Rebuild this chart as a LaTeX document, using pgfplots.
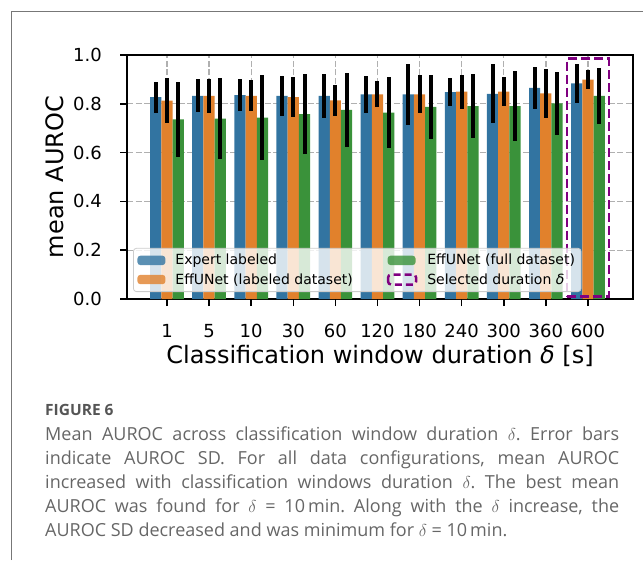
\documentclass[border=0pt]{standalone}
\usepackage{fontspec}
\setmainfont{DejaVu Sans}
\newfontfamily\capfont{Open Sans}
\usepackage{pgfplots}
\usepackage{pgfplotstable}
\pgfplotsset{compat=1.18}
\definecolor{cblue}{HTML}{3274A1}
\definecolor{corange}{HTML}{E1812C}
\definecolor{cgreen}{HTML}{3A923A}
\definecolor{cpurple}{HTML}{800080}
\definecolor{framegray}{HTML}{777777}
\definecolor{capgray}{HTML}{666666}
\definecolor{figgray}{HTML}{555555}
\definecolor{gridgray}{HTML}{B0B0B0}
\definecolor{legendgray}{HTML}{CCCCCC}

\pgfplotstableread{
x y e
0 0.827 0.063
1 0.833 0.068
2 0.836 0.066
3 0.833 0.083
4 0.832 0.090
5 0.839 0.075
6 0.839 0.125
7 0.848 0.058
8 0.841 0.121
9 0.865 0.086
10 0.884 0.079
}\expert
\pgfplotstableread{
x y e
0 0.813 0.091
1 0.832 0.068
2 0.833 0.063
3 0.827 0.081
4 0.814 0.062
5 0.839 0.054
6 0.839 0.078
7 0.850 0.070
8 0.850 0.061
9 0.843 0.100
10 0.899 0.040
}\efflab
\pgfplotstableread{
x y e
0 0.736 0.154
1 0.739 0.165
2 0.743 0.175
3 0.758 0.165
4 0.775 0.152
5 0.764 0.144
6 0.787 0.131
7 0.791 0.130
8 0.791 0.143
9 0.802 0.129
10 0.832 0.113
}\efffull

\begin{document}
\frenchspacing
\begin{tikzpicture}
\path[use as bounding box] (0pt,-560pt) rectangle (643pt,0pt);
\draw[framegray, line width=1pt] (11pt,-560pt) -- (11pt,-11pt) -- (643pt,-11pt);
\begin{axis}[
  at={(127pt,-299pt)}, anchor=south west,
  scale only axis, width=506pt, height=244pt,
  xmin=-0.95, xmax=11.07, ymin=0, ymax=1,
  clip mode=individual,
  xtick={0,1,2,3,4,5,6,7,8,9,10},
  xticklabels={\mbox{1},\mbox{5},\mbox{10},\mbox{30},\mbox{60},\mbox{120},\mbox{180},\mbox{240},\mbox{300},\mbox{360},\mbox{600}},
  ytick={0,0.2,0.4,0.6,0.8,1},
  /pgf/number format/assume math mode=true,
  yticklabel style={/pgf/number format/fixed, /pgf/number format/fixed zerofill, /pgf/number format/precision=1, anchor=east, inner sep=0pt, xshift=-18pt},
  xticklabel style={anchor=north, inner sep=0pt, yshift=-18pt},
  ticklabel style={font=\fontsize{18}{21}\selectfont},
  xtick pos=bottom, ytick pos=left,
  xtick align=outside, ytick align=outside,
  major tick length=7pt,
  major tick style={draw=black, line width=1.5pt},
  axis line style={line width=1.5pt},
  xmajorgrids=true, ymajorgrids=true,
  major grid style={color=gridgray, line width=1.3pt, dash pattern=on 6pt off 2.6pt},
  xlabel={Classification window duration {\itshape δ} [s]},
  ylabel={mean AUROC},
  xlabel style={font=\fontsize{24}{28}\selectfont, at={(axis description cs:0.5,-0.2623)}, anchor=base},
  ylabel style={font=\fontsize{24}{28}\selectfont, at={(axis description cs:-0.1423,0.5)}, anchor=center},
  legend columns=2, transpose legend,
  legend style={at={(0.0119,0.0287)}, anchor=south west, draw=legendgray, line width=0.8pt,
    fill=white, fill opacity=0.8, text opacity=1, rounded corners=3pt,
    font=\fontsize{14}{16}\selectfont, inner xsep=4pt, inner ysep=4pt, row sep=3pt,
    /tikz/every even column/.append style={column sep=32pt},
    cells={anchor=west}},
]
\addplot[ybar, bar width=11.24pt, bar shift=0pt, fill=cblue, draw=none,
  legend image code/.code={\fill[cblue] (0pt,-4.7pt) rectangle (28pt,4.7pt);},
  error bars/.cd, y dir=both, y explicit, error mark=none,
  error bar style={draw=black, line width=4pt, solid}]
  table[x expr=\thisrow{x}-0.267, y=y, y error=e] {\expert};
\addlegendentry{\kern8pt Expert labeled}
\addplot[ybar, bar width=11.24pt, bar shift=0pt, fill=corange, draw=none,
  legend image code/.code={\fill[corange] (0pt,-4.7pt) rectangle (28pt,4.7pt);},
  error bars/.cd, y dir=both, y explicit, error mark=none,
  error bar style={draw=black, line width=4pt, solid}]
  table[x=x, y=y, y error=e] {\efflab};
\addlegendentry{\kern8pt EffUNet (labeled dataset)}
\addplot[ybar, bar width=11.24pt, bar shift=0pt, fill=cgreen, draw=none,
  legend image code/.code={\fill[cgreen] (0pt,-4.7pt) rectangle (28pt,4.7pt);},
  error bars/.cd, y dir=both, y explicit, error mark=none,
  error bar style={draw=black, line width=4pt, solid}]
  table[x expr=\thisrow{x}+0.267, y=y, y error=e] {\efffull};
\addlegendentry{\kern8pt EffUNet (full dataset)}
\addplot[sharp plot, mark=none, draw=cpurple, line width=2.5pt, dash pattern=on 9pt off 4pt,
  legend image code/.code={\draw[cpurple, line width=2.5pt, dash pattern=on 7pt off 4pt] (0.5pt,-5pt) rectangle (28.5pt,5pt);}]
  coordinates {(9.5,0.01) (10.5,0.01) (10.5,0.985) (9.5,0.985)} -- cycle;
\addlegendentry{\kern8pt Selected duration {\itshape δ}}
\pgfplotsinvokeforeach{0,1,2,3,4,5,6,7,8,9,10}{
  \draw[black, line width=1.5pt] (axis cs:#1,0) -- ++(0pt,-7pt);
}
\pgfplotsinvokeforeach{0,0.2,0.4,0.6,0.8,1}{
  \draw[black, line width=1.5pt] (rel axis cs:0,#1) -- ++(-7pt,0pt);
}
\end{axis}
\node[anchor=base west, inner sep=0pt, font=\capfont\bfseries\fontsize{15.5}{18}\selectfont, text=figgray] at (45pt,-415pt) {FIGURE 6};
\node[anchor=base west, inner sep=0pt, text width=574pt, align=justify, font=\capfont\fontsize{18}{24}\selectfont, text=capgray] at (45pt,-440pt) {Mean AUROC across classification window duration $\delta$. Error bars\linebreak indicate AUROC SD. For all data configurations, mean AUROC\linebreak increased with classification windows duration $\delta$. The best mean\linebreak AUROC was found for $\delta$ = 10\,min. Along with the $\delta$ increase, the\linebreak AUROC SD decreased and was minimum for $\delta$ = 10\,min.};
\end{tikzpicture}
\end{document}
